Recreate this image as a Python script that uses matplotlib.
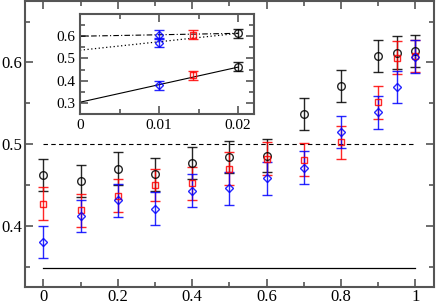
import matplotlib
matplotlib.use('Agg')
import matplotlib.pyplot as plt
from matplotlib.ticker import MultipleLocator
import numpy as np

plt.rcParams['font.family'] = ['Liberation Serif', 'DejaVu Serif']

# main panel data
x = [0, 0.1, 0.2, 0.3, 0.4, 0.5, 0.6, 0.7, 0.8, 0.9, 0.95, 1.0]
black_y = [0.462, 0.455, 0.470, 0.463, 0.477, 0.484, 0.486, 0.537, 0.571, 0.608, 0.612, 0.614]
red_y = [0.427, 0.419, 0.437, 0.450, 0.452, 0.470, 0.482, 0.481, 0.502, 0.551, 0.606, 0.608]
blue_y = [0.380, 0.412, 0.431, 0.421, 0.443, 0.446, 0.458, 0.471, 0.515, 0.539, 0.570, 0.607]
black_err = [0.020] * 12
red_err = [0.020] * 12
blue_err = [0.020] * 12

solid_level = 0.348
dashed_level = 0.5

# inset data (x = 1/L)
inv_L = [0.01, 1 / 70, 0.02]
ins_black = [0.613, 0.463]
ins_red = [0.606, 0.424]
ins_blue = [0.606, 0.570, 0.380]
ins_err = 0.02
fit_x = [0, 0.02]
fit_solid = [0.303, 0.461]
fit_dotted = [0.537, 0.613]
fit_dashdot = [0.600, 0.613]

spine_col = '#555555'

fig = plt.figure(figsize=(4.36, 3.04), dpi=100)
ax = fig.add_axes([0.057, 0.056, 0.938, 0.94])

ax.plot([0, 1], [solid_level, solid_level], color='black', lw=0.9)
ax.plot([0, 1], [dashed_level, dashed_level], color='black', lw=0.8, ls=(0, (4, 3)))

for ys, es, c, m, ms in [(black_y, black_err, 'black', 'o', 5.5),
                         (red_y, red_err, 'red', 's', 4.5),
                         (blue_y, blue_err, 'blue', 'D', 3.8)]:
    ax.errorbar(x, ys, yerr=es, fmt=m, color=c, mfc='none', mec=c, mew=1.0, ms=ms,
                ecolor=c, elinewidth=1.0, capsize=3.5, capthick=1.0, alpha=0.85)

ax.set_xlim(-0.05, 1.05)
ax.set_ylim(0.325, 0.675)
ax.set_xticks([0, 0.2, 0.4, 0.6, 0.8, 1.0])
ax.set_xticklabels(['0', '0.2', '0.4', '0.6', '0.8', '1'])
ax.set_yticks([0.4, 0.5, 0.6])
ax.set_yticklabels(['0.4', '0.5', '0.6'])
ax.xaxis.set_minor_locator(MultipleLocator(0.1))
ax.yaxis.set_minor_locator(MultipleLocator(0.05))
ax.tick_params(which='both', direction='in', top=True, right=True, color=spine_col, width=1.2,
               labelsize=12)
ax.tick_params(axis='x', pad=1.5)
ax.tick_params(axis='y', pad=2)
ax.tick_params(which='major', length=6)
ax.tick_params(which='minor', length=3.5)
for s in ax.spines.values():
    s.set_color(spine_col)
    s.set_linewidth(1.5)

# inset
ins = fig.add_axes([0.1835, 0.625, 0.399, 0.329])
ins.plot(fit_x, fit_solid, color='black', lw=0.8)
ins.plot(fit_x, fit_dotted, color='black', lw=0.9, ls=(0, (1, 2)))
ins.plot(fit_x, fit_dashdot, color='black', lw=0.8, ls=(0, (5, 2, 1, 2)))
ins.errorbar([inv_L[2]] * 2, ins_black, yerr=ins_err, fmt='o', color='black', mfc='none',
             ms=5.5, mew=1.0, elinewidth=1.0, capsize=3.5, alpha=0.85)
ins.errorbar([inv_L[1]] * 2, ins_red, yerr=ins_err, fmt='s', color='red', mfc='none',
             ms=4.5, mew=1.0, elinewidth=1.0, capsize=3.5, alpha=0.85)
ins.errorbar([inv_L[0]] * 3, ins_blue, yerr=ins_err, fmt='D', color='blue', mfc='none',
             ms=3.8, mew=1.0, elinewidth=1.0, capsize=3.5, alpha=0.85)
ins.set_xlim(0, 0.022)
ins.set_ylim(0.25, 0.70)
ins.set_xticks([0, 0.01, 0.02])
ins.set_xticklabels(['0', '0.01', '0.02'])
ins.set_yticks([0.3, 0.4, 0.5, 0.6])
ins.set_yticklabels(['0.3', '0.4', '0.5', '0.6'])
ins.xaxis.set_minor_locator(MultipleLocator(0.005))
ins.yaxis.set_minor_locator(MultipleLocator(0.05))
ins.tick_params(which='both', direction='in', top=True, right=True, color=spine_col, width=1.2,
                labelsize=11)
ins.tick_params(which='major', length=6)
ins.tick_params(which='minor', length=3.5)
for s in ins.spines.values():
    s.set_color(spine_col)
    s.set_linewidth(1.5)

fig.savefig('out.png', dpi=100)
